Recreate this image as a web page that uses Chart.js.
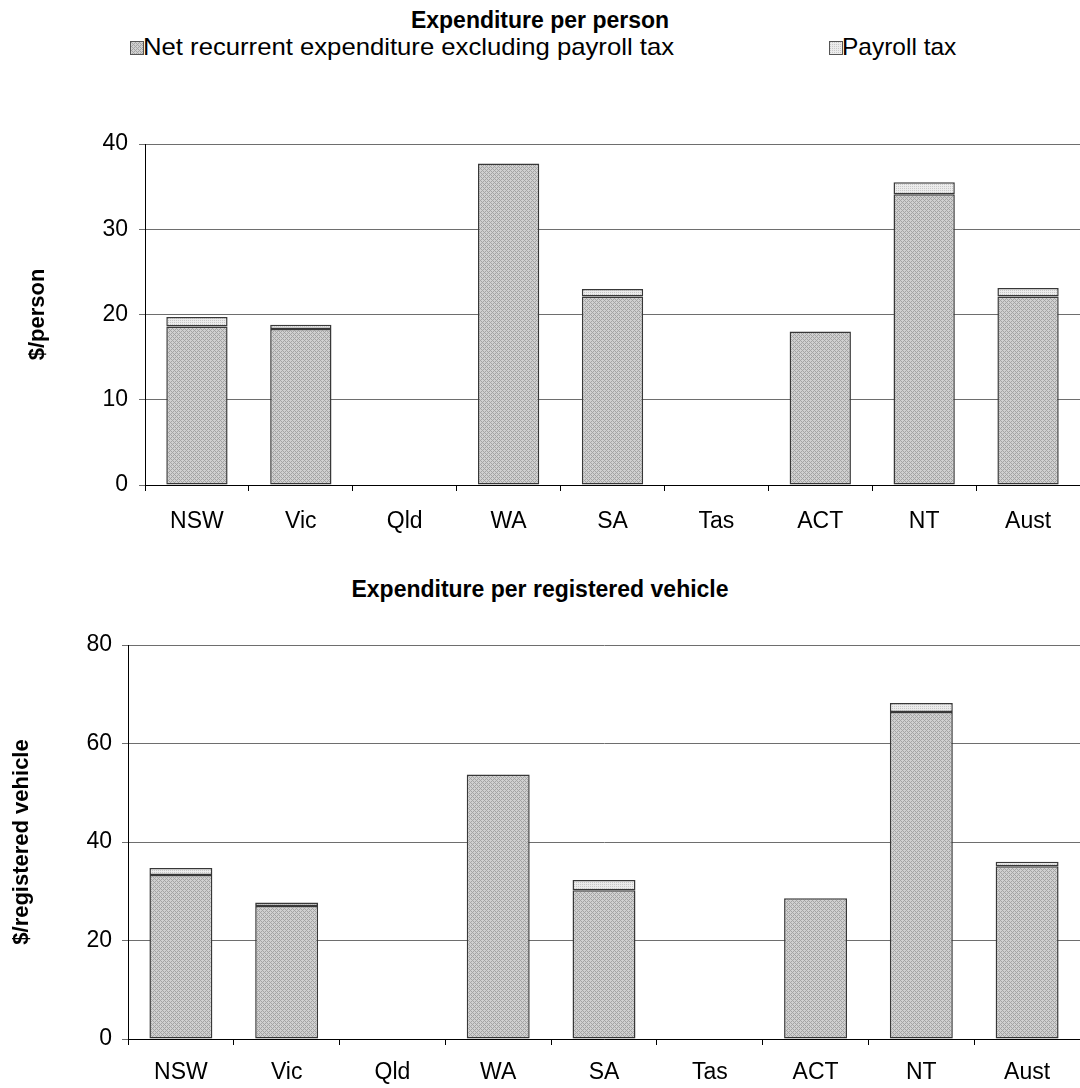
<!DOCTYPE html>
<html>
<head>
<meta charset="utf-8">
<script src="https://cdn.jsdelivr.net/npm/chart.js@4/dist/chart.umd.min.js"></script>
<style>
  html, body { margin:0; padding:0; background:#fff; }
  body { width:1080px; height:1088px; position:relative; overflow:hidden; font-family:'Liberation Sans', Arial, sans-serif; }
  .title { position:absolute; left:0; width:1080px; text-align:center; font-weight:bold; font-size:23px; line-height:26px; color:#000; }
  .leg { position:absolute; font-size:24px; color:#000; line-height:28px; white-space:nowrap; }
  .leg span { display:inline-block; transform-origin:0 50%; }
  .leg canvas { position:absolute; left:-13px; top:8px; border:1px solid #555; box-sizing:border-box; }
  .box { position:absolute; left:0; width:1080px; }
</style>
</head>
<body>
<div class="title" style="top:7px;">Expenditure per person</div>
<div class="leg" style="left:143px; top:33px;"><canvas id="sw1" width="12" height="12"></canvas><span style="transform:scaleX(1.07);">Net recurrent expenditure excluding payroll tax</span></div>
<div class="leg" style="left:842px; top:33px;"><canvas id="sw2" width="12" height="12"></canvas><span style="transform:scaleX(1.02);">Payroll tax</span></div>
<div class="box" style="top:120px; height:430px;"><canvas id="c1"></canvas></div>
<div class="title" style="top:576px;">Expenditure per registered vehicle</div>
<div class="box" style="top:620px; height:468px;"><canvas id="c2"></canvas></div>
<script>
const categories = ['NSW', 'Vic', 'Qld', 'WA', 'SA', 'Tas', 'ACT', 'NT', 'Aust'];
const seriesNames = ['Net recurrent expenditure excluding payroll tax', 'Payroll tax'];
const personNet     = [18.6, 18.3, null, 37.7, 22.1, null, 18.0, 34.1, 22.1];
const personPayroll = [1.1, 0.5, null, 0, 0.9, null, 0, 1.4, 1.0];
const vehicleNet     = [33.3, 27.0, null, 53.7, 30.2, null, 28.6, 66.4, 35.1];
const vehiclePayroll = [1.4, 0.7, null, 0, 2.1, null, 0, 1.8, 0.9];
const personTicks = { max: 40, step: 10 };
const vehicleTicks = { max: 80, step: 20 };

function makePattern(kind) {
  const c = document.createElement('canvas');
  c.width = 4; c.height = 4;
  const g = c.getContext('2d');
  if (kind === 'net') {
    g.fillStyle = '#d0d0d0'; g.fillRect(0, 0, 4, 4);
    g.fillStyle = '#a4a4a4';
    for (let x = 0; x < 4; x++) for (let y = 0; y < 4; y++) {
      if ((x + y) % 4 === 0 || (x - y + 4) % 4 === 0) g.fillRect(x, y, 1, 1);
    }
  } else {
    g.fillStyle = '#ececec'; g.fillRect(0, 0, 4, 4);
    g.fillStyle = '#c8c8c8';
    for (let x = 0; x < 4; x++) for (let y = 0; y < 4; y++) {
      if ((x + y) % 2 === 0 && y % 2 === 0) g.fillRect(x, y, 1, 1);
    }
  }
  return g.createPattern(c, 'repeat');
}
const netPat = makePattern('net');
const payPat = makePattern('pay');

function swatch(id, pat) {
  const g = document.getElementById(id).getContext('2d');
  g.fillStyle = pat; g.fillRect(0, 0, 12, 12);
}
swatch('sw1', netPat);
swatch('sw2', payPat);

const FONT = "'Liberation Sans', Arial, sans-serif";

function makeChart(id, net, pay, ticks, yTitle, cfg) {
  return new Chart(document.getElementById(id), {
    type: 'bar',
    data: {
      labels: categories,
      datasets: [
        { label: seriesNames[0], data: net, backgroundColor: netPat, borderColor: '#383838', borderWidth: 1.5, borderSkipped: false },
        { label: seriesNames[1], data: pay, backgroundColor: payPat, borderColor: '#383838', borderWidth: 1.5, borderSkipped: false }
      ]
    },
    options: {
      responsive: true,
      maintainAspectRatio: false,
      animation: false,
      layout: { padding: { top: cfg.padTop, right: 0, bottom: 0, left: 0 } },
      datasets: { bar: { categoryPercentage: 1, barPercentage: cfg.barPct } },
      plugins: { legend: { display: false }, tooltip: { enabled: false }, title: { display: false } },
      scales: {
        x: {
          stacked: true,
          afterFit: (s) => { s.height = cfg.xHeight; s.paddingLeft = 0; s.paddingRight = 0; },
          grid: { drawOnChartArea: false, drawTicks: true, tickLength: 6, color: '#000', offset: true },
          border: { color: '#000', width: 1 },
          ticks: { color: '#000', font: { family: FONT, size: 23 }, padding: cfg.xPad, maxRotation: 0, autoSkip: false }
        },
        y: {
          stacked: true,
          min: 0, max: ticks.max,
          afterFit: (s) => { s.width = cfg.yWidth; s.paddingTop = 0; s.paddingBottom = 0; },
          grid: { color: '#6e6e6e', lineWidth: 1, tickLength: 6, drawTicks: true },
          border: { color: '#000', width: 1 },
          ticks: { stepSize: ticks.step, color: '#000', font: { family: FONT, size: 23 }, padding: cfg.yPad },
          title: { display: true, text: yTitle, color: '#000', font: { family: FONT, size: 22, weight: 'bold' }, padding: { top: cfg.titlePad, bottom: 0 } }
        }
      }
    }
  });
}

makeChart('c1', personNet, personPayroll, personTicks, '$/person',
  { padTop: 24, xHeight: 65, yWidth: 145, xPad: 17, yPad: 11, titlePad: 25, barPct: 0.59 });
makeChart('c2', vehicleNet, vehiclePayroll, vehicleTicks, '$/registered vehicle',
  { padTop: 25, xHeight: 49, yWidth: 128, xPad: 14, yPad: 10, titlePad: 9, barPct: 0.595 });
</script>
</body>
</html>
